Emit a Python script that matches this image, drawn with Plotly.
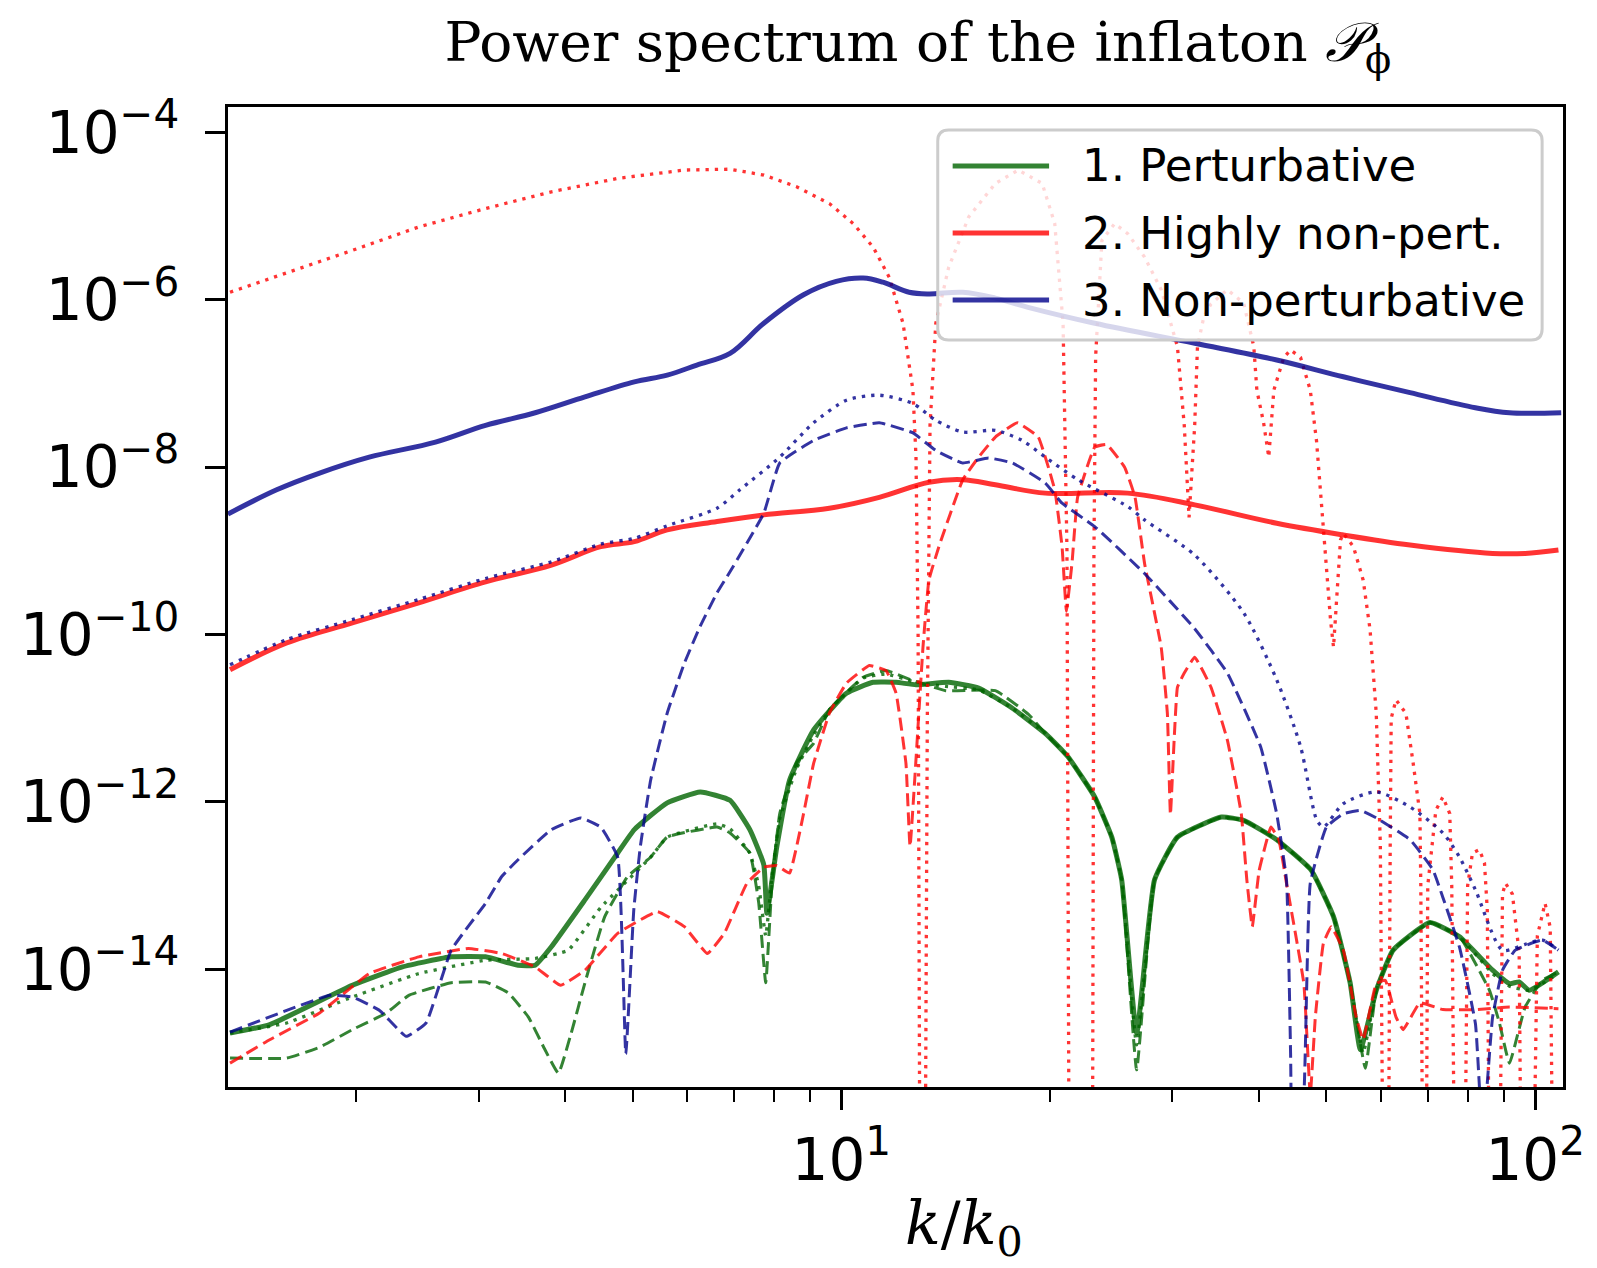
import numpy as np
import plotly.graph_objects as go

# ---------------- data (k/k0 values and log10 of the power spectrum) ----------------
# 1. Perturbative (green)
k_g_solid = [1.315, 1.50, 1.973, 2.33, 2.74, 3.07, 3.42, 3.62, 3.82, 4.27, 4.76, 5.03, 5.61, 6.26, 6.91,
             7.38, 7.73, 7.81, 8.07, 8.42, 9.12, 10.17, 11.11, 11.99, 12.81, 14.28, 15.77, 17.64, 19.67,
             21.21, 23.18, 24.53, 25.35, 26.64, 28.27, 30.5, 35.3, 38.0, 42.4, 47.5, 51.2, 54.1, 55.97,
             59.0, 62.4, 70.5, 77.8, 86.8, 91.8, 94.8, 98.0, 108.0]
lp_g_solid = [-14.76, -14.66, -14.19, -13.97, -13.85, -13.85, -13.95, -13.95, -13.73, -13.17, -12.61, -12.33,
              -12.01, -11.88, -11.98, -12.33, -12.75, -13.33, -12.54, -11.74, -11.14, -10.70, -10.57, -10.57,
              -10.60, -10.57, -10.64, -10.88, -11.18, -11.46, -11.94, -12.42, -12.93, -14.76, -12.93, -12.42,
              -12.18, -12.22, -12.45, -12.81, -13.37, -14.16, -14.96, -14.25, -13.77, -13.44, -13.61, -14.01,
              -14.17, -14.15, -14.25, -14.03]

k_g_dash = [1.315, 1.587, 1.77, 1.973, 2.21, 2.38, 2.74, 3.07, 3.31, 3.54, 3.74, 3.91, 4.08, 4.27, 4.56,
            4.92, 5.31, 5.61, 6.62, 6.91, 7.38, 7.60, 7.78, 7.94, 8.15, 8.62, 9.12, 9.61, 10.75, 11.60,
            12.68, 14.14, 16.67, 18.59, 19.67, 21.21, 23.18, 24.53, 25.35, 26.64, 28.27, 30.5, 35.3, 38.0,
            42.4, 47.5, 51.2, 54.1, 56.9, 59.0, 62.4, 70.5, 77.8, 85.9, 88.8, 91.8, 96.7, 102.4, 108.0]
lp_g_dash = [-15.06, -15.06, -14.93, -14.72, -14.52, -14.31, -14.16, -14.15, -14.28, -14.57, -14.96, -15.24,
             -14.76, -14.16, -13.37, -12.89, -12.66, -12.42, -12.30, -12.37, -12.61, -13.2, -14.16, -13.0,
             -12.14, -11.53, -11.30, -10.90, -10.51, -10.43, -10.55, -10.67, -10.67, -10.95, -11.18, -11.46,
             -11.94, -12.42, -12.93, -15.2, -12.93, -12.42, -12.18, -12.22, -12.45, -12.81, -13.37, -14.16,
             -15.18, -14.25, -13.77, -13.44, -13.61, -14.25, -14.64, -15.12, -14.45, -14.13, -14.03]

k_g_dot = [1.315, 1.587, 1.973, 2.46, 3.07, 3.62, 4.04, 4.50, 5.31, 5.61, 6.62, 6.91, 7.38, 7.60, 7.78, 7.94,
           8.15, 8.62, 9.12, 9.61, 10.75, 11.60, 12.68, 14.14, 15.77, 17.64, 19.67, 21.21, 23.18, 24.53,
           25.35, 26.64, 28.27, 30.5, 35.3, 38.0, 42.4, 47.5, 51.2, 54.1, 56.5, 59.0, 62.4, 70.5, 77.8,
           86.8, 91.8, 98.0, 108.0]
lp_g_dot = [-14.76, -14.64, -14.33, -14.05, -13.89, -13.87, -13.77, -13.26, -12.66, -12.42, -12.26, -12.32,
            -12.61, -13.0, -13.6, -12.9, -12.2, -11.6, -11.2, -10.9, -10.52, -10.47, -10.56, -10.62, -10.66,
            -10.88, -11.18, -11.46, -11.94, -12.42, -12.93, -14.9, -12.93, -12.42, -12.18, -12.22, -12.45,
            -12.81, -13.37, -14.16, -15.0, -14.25, -13.77, -13.44, -13.61, -14.05, -14.2, -14.25, -14.05]

# 2. Highly non-perturbative (red)
k_r_solid = [1.315, 1.587, 1.973, 2.46, 3.07, 3.82, 4.50, 5.03, 5.61, 6.62, 7.73, 9.61, 11.34, 13.37, 14.96,
             16.67, 19.67, 25.86, 32.3, 42.4, 52.9, 66.0, 86.8, 96.7, 108.0]
lp_r_solid = [-10.42, -10.10, -9.86, -9.62, -9.37, -9.17, -8.95, -8.89, -8.75, -8.65, -8.57, -8.49, -8.36,
              -8.18, -8.15, -8.21, -8.31, -8.31, -8.45, -8.67, -8.81, -8.93, -9.03, -9.03, -8.99]

k_r_dash = [1.315, 1.50, 1.77, 2.087, 2.46, 2.90, 3.24, 3.62, 3.94, 4.27, 4.76, 5.43, 5.94, 6.41, 6.78, 7.31,
            7.73, 8.07, 8.42, 8.82, 9.12, 9.61, 10.17, 10.97, 11.60, 11.99, 12.39, 12.56, 13.11, 13.37,
            13.82, 14.96, 15.77, 16.67, 17.93, 19.22, 20.3, 20.8, 21.1, 21.5, 21.9, 23.18, 24.13, 25.6,
            26.5, 27.35, 28.9, 29.5, 29.8, 30.5, 31.2, 32.3, 34.1, 36.0, 37.7, 38.4, 39.1, 40.0, 41.6,
            42.7, 43.8, 46.4, 47.4, 48.2, 49.5, 50.8, 52.9, 55.2, 56.5, 59.0, 60.8, 63.0, 64.5, 68.2,
            73.6, 82.0, 91.8, 108.0]
lp_r_dash = [-15.12, -14.84, -14.52, -14.05, -13.85, -13.75, -13.81, -13.97, -14.19, -14.01, -13.57, -13.31,
             -13.49, -13.81, -13.57, -12.97, -12.78, -12.76, -12.85, -12.14, -11.54, -10.94, -10.58, -10.37,
             -10.43, -10.70, -11.54, -12.53, -10.15, -9.35, -8.95, -8.15, -7.88, -7.64, -7.47, -7.64, -8.27,
             -8.95, -9.72, -9.14, -8.36, -7.76, -7.73, -8.0, -8.36, -9.15, -10.15, -10.94, -12.15, -10.63,
             -10.46, -10.27, -10.63, -11.26, -12.14, -12.93, -13.49, -12.82, -12.30, -12.45, -12.97, -14.17,
             -15.5, -14.57, -13.69, -13.49, -13.77, -14.57, -14.84, -14.17, -14.13, -14.57, -14.72, -14.40,
             -14.48, -14.48, -14.45, -14.47]

k_r_dot = [1.315, 1.587, 1.973, 2.46, 3.07, 3.82, 4.76, 5.94, 6.91, 7.73, 8.62, 9.61, 10.40, 11.11, 11.72,
           12.27, 12.68, 12.81, 12.90, 12.98, 13.2, 13.3, 13.42, 13.68, 14.28, 15.26, 16.67, 17.99, 19.47,
           20.3, 20.87, 21.14, 21.3, 23.0, 23.12, 23.25, 23.74, 24.77, 25.86, 27.35, 28.9, 30.5, 31.2, 31.7,
           32.3, 32.6, 33.3, 34.1, 36.0, 38.0, 39.3, 39.7, 40.6, 41.3, 42.0, 43.4, 44.4, 45.9, 47.4, 48.4,
           49.5, 50.7, 51.2, 52.4, 52.9, 54.7, 56.5, 57.8, 59.0, 59.8, 60.4, 61.4, 61.8, 62.0, 63.0, 65.1,
           66.7, 68.2, 68.4, 68.9, 69.6, 70.0, 71.9, 73.6, 75.3, 75.8, 76.6, 79.1, 79.9, 81.2, 83.1, 84.5,
           85.3, 85.9, 88.8, 89.7, 90.6, 92.7, 94.8, 95.5, 99.3, 100.7, 103.3, 105.1, 106.1, 110.0]
lp_r_dot = [-5.91, -5.68, -5.41, -5.13, -4.91, -4.71, -4.55, -4.45, -4.44, -4.51, -4.65, -4.85, -5.09, -5.37,
            -5.73, -6.28, -7.08, -7.88, -10.0, -17.0, -17.0, -11.0, -7.5, -6.28, -5.61, -5.01, -4.61, -4.45,
            -4.61, -5.09, -6.28, -9.0, -17.0, -17.0, -9.0, -6.68, -5.29, -5.09, -5.21, -5.49, -5.88, -6.56,
            -7.5, -8.6, -7.5, -6.56, -6.2, -6.05, -5.88, -6.04, -6.56, -7.08, -7.47, -7.88, -7.08, -6.69,
            -6.60, -6.69, -7.08, -7.69, -8.75, -9.83, -10.15, -8.87, -8.79, -8.95, -9.35, -9.94, -10.94,
            -12.5, -17.0, -17.0, -12.5, -11.0, -10.78, -10.94, -11.54, -12.14, -13.0, -17.0, -17.0, -13.0,
            -12.10, -11.94, -12.14, -13.0, -17.0, -17.0, -13.0, -12.61, -12.57, -12.73, -13.3, -17.0, -17.0,
            -13.1, -12.97, -13.1, -13.8, -17.0, -17.0, -13.6, -13.21, -13.5, -17.0, -17.0]

# 3. Non-perturbative (blue)
k_b_solid = [1.306, 1.535, 1.77, 2.087, 2.60, 3.07, 3.62, 4.27, 5.03, 5.61, 6.19, 6.91, 7.73, 8.82, 9.83,
             10.75, 11.48, 12.52, 13.37, 14.96, 16.67, 18.58, 23.18, 32.3, 42.4, 52.9, 66.0, 82.0, 91.8, 109.0]
lp_b_solid = [-8.56, -8.27, -8.07, -7.88, -7.70, -7.50, -7.35, -7.16, -6.98, -6.90, -6.78, -6.64, -6.28,
              -5.94, -5.78, -5.74, -5.79, -5.91, -5.93, -5.91, -5.98, -6.09, -6.28, -6.52, -6.72, -6.92,
              -7.11, -7.29, -7.35, -7.35]

k_b_dash = [1.315, 1.587, 1.83, 1.973, 2.16, 2.36, 2.52, 2.74, 3.07, 3.24, 3.42, 3.82, 4.21, 4.50, 4.76, 4.89,
            5.02, 5.13, 5.31, 5.61, 5.94, 6.26, 6.62, 6.91, 7.73, 8.15, 9.12, 10.17, 11.34, 12.68, 13.68,
            14.96, 16.29, 17.64, 19.67, 20.8, 23.18, 27.35, 32.3, 36.0, 40.2, 42.4, 43.8, 44.4, 44.7, 46.4,
            47.4, 50.0, 52.9, 56.0, 59.0, 66.0, 71.2, 73.6, 77.8, 82.0, 84.0, 86.8, 89.7, 93.6, 102.4, 108.0]
lp_b_dash = [-14.75, -14.49, -14.31, -14.33, -14.49, -14.80, -14.64, -13.77, -13.21, -12.89, -12.69, -12.33,
             -12.19, -12.30, -12.66, -15.01, -13.3, -12.54, -11.74, -10.94, -10.34, -9.90, -9.50, -9.25, -8.55,
             -7.95, -7.68, -7.53, -7.47, -7.59, -7.80, -7.95, -7.89, -7.95, -8.19, -8.43, -8.71, -9.27, -9.93,
             -10.46, -11.34, -12.14, -12.93, -15.0, -16.5, -15.5, -12.97, -12.30, -12.14, -12.10, -12.19,
             -12.45, -12.81, -13.14, -13.74, -14.65, -16.0, -14.57, -14.01, -13.77, -13.65, -13.77]

k_b_dot = [1.315, 1.587, 1.973, 2.46, 3.07, 3.82, 4.50, 5.03, 5.61, 6.62, 7.14, 8.15, 9.12, 10.17, 11.34,
           12.68, 13.68, 14.96, 16.67, 18.22, 19.67, 21.93, 25.86, 27.35, 32.3, 38.0, 42.4, 45.9, 48.4, 49.5,
           52.9, 59.0, 66.0, 73.6, 77.8, 82.0, 89.7, 96.7, 102.4, 108.0]
lp_b_dot = [-10.36, -10.06, -9.82, -9.58, -9.33, -9.13, -8.92, -8.85, -8.70, -8.49, -8.27, -7.88, -7.47, -7.20,
            -7.14, -7.24, -7.44, -7.58, -7.56, -7.68, -7.88, -8.15, -8.47, -8.63, -9.05, -9.74, -10.54,
            -11.34, -12.21, -12.30, -12.02, -11.88, -12.06, -12.37, -12.66, -13.05, -13.77, -13.70, -13.65,
            -13.77]

legend_names = ["1. Perturbative", "2. Highly non-pert.", "3. Non-perturbative"]
y_tick_exps = [-14, -12, -10, -8, -6, -4]
x_tick_exps = [1, 2]
x_minor = [2, 3, 4, 5, 6, 7, 8, 9, 20, 30, 40, 50, 60, 70, 80, 90]

# ---------------- styling ----------------
GREEN = "rgba(0,100,0,0.8)"
RED = "rgba(255,0,0,0.8)"
BLUE = "rgba(0,0,139,0.8)"
SOLID = dict(width=5)
DASH = dict(width=3, dash="13px,6px")
DOT = dict(width=3.3, dash="3.3px,6px")

W, H = 1597, 1268
L, R, T, B = 228, 1571, 107, 1087  # plot frame in pixels


def px(xp, yp):
    return (xp - L) / (R - L), (B - yp) / (B - T)


fig = go.Figure()
series = [
    (k_g_solid, lp_g_solid, GREEN, SOLID, 0.4), (k_g_dash, lp_g_dash, GREEN, DASH, 0.35),
    (k_g_dot, lp_g_dot, GREEN, DOT, 0.35),
    (k_r_solid, lp_r_solid, RED, SOLID, 1.0), (k_r_dash, lp_r_dash, RED, DASH, 0.3),
    (k_r_dot, lp_r_dot, RED, DOT, 0.0),
    (k_b_solid, lp_b_solid, BLUE, SOLID, 1.0), (k_b_dash, lp_b_dash, BLUE, DASH, 0.35),
    (k_b_dot, lp_b_dot, BLUE, DOT, 0.7),
]
for k, lp, col, st, sm in series:
    shape = dict(shape="spline", smoothing=sm) if sm > 0 else dict(shape="linear")
    fig.add_trace(go.Scatter(x=k, y=np.power(10.0, np.array(lp)), mode="lines",
                             line=dict(color=col, **st, **shape), showlegend=False, hoverinfo="skip"))

# ---------------- custom legend ----------------
lx0, lx1, ly0, ly1, rad = 942, 1550, 130, 340, 11
a0, b0 = px(lx0, ly1)
a1, b1 = px(lx1, ly0)
rx = rad / (R - L)
ry = rad / (B - T)
path = (f"M{a0+rx},{b0} L{a1-rx},{b0} Q{a1},{b0} {a1},{b0+ry} L{a1},{b1-ry} Q{a1},{b1} {a1-rx},{b1} "
        f"L{a0+rx},{b1} Q{a0},{b1} {a0},{b1-ry} L{a0},{b0+ry} Q{a0},{b0} {a0+rx},{b0} Z")
shapes = [dict(type="path", path=path, xref="paper", yref="paper", layer="above",
               fillcolor="rgba(255,255,255,0.8)", line=dict(color="rgb(204,204,204)", width=3))]
annotations = []
for name, col, yy in zip(legend_names, [GREEN, RED, BLUE], [166, 233, 300]):
    s0, t0 = px(957, yy)
    s1, _ = px(1054, yy)
    shapes.append(dict(type="line", xref="paper", yref="paper", x0=s0, x1=s1, y0=t0, y1=t0,
                       layer="above", line=dict(color=col, width=5)))
    tx, ty = px(1085, yy)
    annotations.append(dict(text=name, xref="paper", yref="paper", x=tx, y=ty, xanchor="left",
                            yanchor="middle", showarrow=False,
                            font=dict(family="DejaVu Sans", size=45, color="black")))

# x-axis label
xa, ya = px(968, 1268)
annotations.append(dict(text="<i>k</i>/<i>k</i><sub>0</sub>", xref="paper", yref="paper", x=xa, y=ya,
                        xanchor="center", yanchor="bottom", showarrow=False,
                        font=dict(family="DejaVu Serif", size=59, color="black")))

tx_title, _ = px(922, 0)
fig.update_layout(
    width=W, height=H, autosize=False,
    margin=dict(l=L, r=W - R, t=T, b=H - B),
    paper_bgcolor="white", plot_bgcolor="white",
    title=dict(text="Power spectrum of the inflaton <i>𝒫</i><sub>ϕ</sub>", x=tx_title, xref="paper",
               xanchor="center", y=1 - 42 / H, yref="container", yanchor="middle",
               font=dict(family="DejaVu Serif", size=55, color="black")),
    shapes=shapes, annotations=annotations,
)
fig.update_xaxes(type="log", range=[0.116, 2.040], showgrid=False, zeroline=False,
                 showline=True, mirror=True, linecolor="black", linewidth=3,
                 ticks="outside", ticklen=20, tickwidth=2.5, tickcolor="black",
                 tickmode="array", tickvals=[10 ** e for e in x_tick_exps],
                 ticktext=[f"10<sup>{e}</sup>" for e in x_tick_exps],
                 tickfont=dict(family="DejaVu Sans", size=58, color="black"),
                 minor=dict(ticks="outside", ticklen=12, tickwidth=2, tickcolor="black",
                            tickmode="array", tickvals=x_minor, showgrid=False))
fig.update_yaxes(type="log", range=[-15.405, -3.697], showgrid=False, zeroline=False,
                 showline=True, mirror=True, linecolor="black", linewidth=3,
                 ticks="outside", ticklen=20, tickwidth=2.5, tickcolor="black",
                 ticklabelstandoff=14,
                 tickmode="array", tickvals=[10.0 ** e for e in y_tick_exps],
                 ticktext=[f"10<sup>\u2212{-e}</sup>" for e in y_tick_exps],
                 tickfont=dict(family="DejaVu Sans", size=58, color="black"))

fig.write_html("out.html")
